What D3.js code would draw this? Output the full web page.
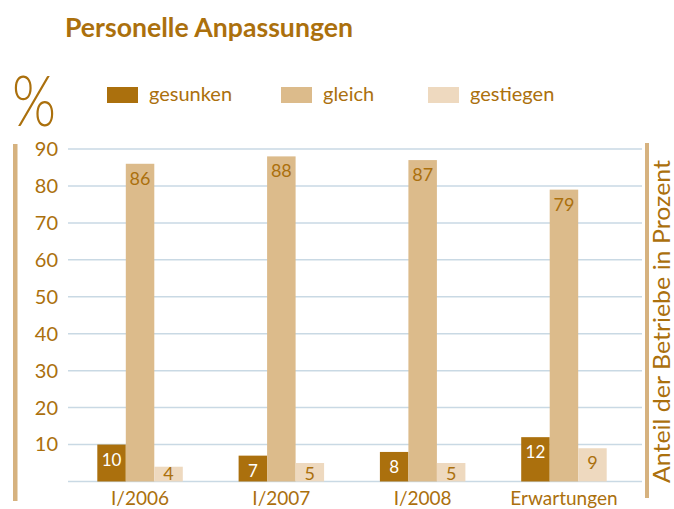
<!DOCTYPE html>
<html>
<head>
<meta charset="utf-8">
<script src="https://cdn.jsdelivr.net/npm/d3@7"></script>
<style>
  body { margin: 0; background: #fff; }
  text { font-family: Lato, "Open Sans", sans-serif; }
</style>
</head>
<body>
<div id="chart"></div>
<script>
const categories = ["I/2006", "I/2007", "I/2008", "Erwartungen"];
const seriesNames = ["gesunken", "gleich", "gestiegen"];
const gesunken = [10, 7, 8, 12];
const gleich = [86, 88, 87, 79];
const gestiegen = [4, 5, 5, 9];
const yTicks = [10, 20, 30, 40, 50, 60, 70, 80, 90];

let width = 674,
    height = 509,
    gold = "#ab700d",
    colors = ["#ab700d", "#dcbb8b", "#eed9bf"],
    labelColors = ["#ffffff", gold, gold];

let svg = d3.select("#chart")
    .append("svg")
    .attr("width", width)
    .attr("height", height);

let series = [gesunken, gleich, gestiegen];

let x = d3.scaleBand()
    .domain(categories)
    .range([69.4, 634.6])
    .paddingInner(0.395)
    .paddingOuter(0.1975);

let xs = d3.scaleBand()
    .domain(seriesNames)
    .range([0, x.bandwidth()]);

let y = d3.scaleLinear()
    .domain([0, 90])
    .range([481.5, 149]);

// title
svg.append("text")
    .attr("x", 65)
    .attr("y", 37)
    .attr("textLength", 288)
    .attr("lengthAdjust", "spacingAndGlyphs")
    .text("Personelle Anpassungen")
    .style("font-size", "26px")
    .style("font-weight", 700)
    .style("fill", gold);

// big percent sign
svg.append("text")
    .attr("x", 12)
    .attr("y", 126)
    .attr("textLength", 44)
    .attr("lengthAdjust", "spacingAndGlyphs")
    .text("%")
    .style("font-size", "70px")
    .style("font-weight", 300)
    .style("fill", gold);

// legend
let legend = svg.selectAll(".legend")
    .data(seriesNames)
    .enter()
    .append("g")
    .attr("class", "legend")
    .attr("transform", function (d, i) {
        return "translate(" + [107, 281, 428][i] + ",87)";
    });

legend.append("rect")
    .attr("width", 31)
    .attr("height", 16)
    .style("fill", function (d, i) { return colors[i]; });

legend.append("text")
    .attr("x", 42)
    .attr("y", 14)
    .text(function (d) { return d; })
    .style("font-size", "20px")
    .style("fill", gold);

// side rules
svg.append("rect")
    .attr("x", 13).attr("y", 144)
    .attr("width", 4.5).attr("height", 357)
    .style("fill", "#d6b27f");

svg.append("rect")
    .attr("x", 645).attr("y", 143)
    .attr("width", 4).attr("height", 355)
    .style("fill", "#d6b27f");

// gridlines
svg.selectAll(".grid")
    .data([0].concat(yTicks))
    .enter()
    .append("line")
    .attr("class", "grid")
    .attr("x1", 68)
    .attr("x2", 642)
    .attr("y1", function (d) { return y(d); })
    .attr("y2", function (d) { return y(d); })
    .style("stroke", "#c9d9e4")
    .style("stroke-width", 1.5);

// y axis labels
let y_axis = d3.axisLeft(y)
    .tickValues(yTicks)
    .tickSize(0)
    .tickPadding(0);

svg.append("g")
    .attr("class", "yaxis")
    .attr("transform", "translate(58,0)")
    .call(y_axis)
    .call(function (g) { g.select(".domain").remove(); });

d3.selectAll(".yaxis .tick text")
    .style("font-size", "20px")
    .style("font-family", "Lato, sans-serif")
    .style("fill", gold);

// bars
let groups = svg.selectAll(".grp")
    .data(categories)
    .enter()
    .append("g")
    .attr("class", "grp")
    .attr("transform", function (d) { return "translate(" + x(d) + ",0)"; });

seriesNames.forEach(function (s, si) {
    groups.append("rect")
        .attr("x", xs(s))
        .attr("width", xs.bandwidth())
        .attr("y", function (d, i) { return y(series[si][i]); })
        .attr("height", function (d, i) { return y(0) - y(series[si][i]); })
        .style("fill", colors[si]);

    groups.append("text")
        .attr("x", xs(s) + xs.bandwidth() / 2)
        .attr("y", function (d, i) { return Math.min(y(series[si][i]) + 21, 480); })
        .attr("text-anchor", "middle")
        .text(function (d, i) { return series[si][i]; })
        .style("font-size", si === 0 ? "17px" : "18px")
        .style("fill", labelColors[si]);
});

// category labels
svg.selectAll(".cat")
    .data(categories)
    .enter()
    .append("text")
    .attr("class", "cat")
    .attr("x", function (d) { return x(d) + x.bandwidth() / 2; })
    .attr("y", 505)
    .attr("text-anchor", "middle")
    .text(function (d) { return d; })
    .style("font-size", "19px")
    .style("fill", gold);

// right axis title
svg.append("text")
    .attr("transform", "translate(670,321.5) rotate(-90)")
    .attr("text-anchor", "middle")
    .attr("textLength", 323)
    .attr("lengthAdjust", "spacingAndGlyphs")
    .text("Anteil der Betriebe in Prozent")
    .style("font-size", "23px")
    .style("fill", gold);
</script>
</body>
</html>
